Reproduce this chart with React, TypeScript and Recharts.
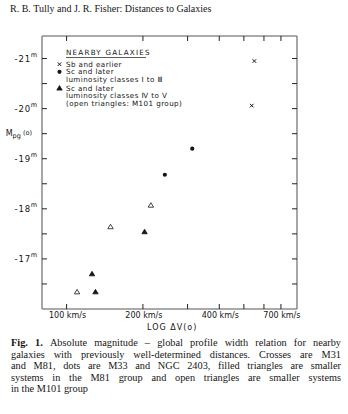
import React from 'react';
import { ScatterChart, Scatter, XAxis, YAxis } from 'recharts';

// Tully & Fisher (1977), Fig. 1 - nearby calibrators
// velocity width in km/s, absolute magnitude M_pg(o)
const sbEarlier = [
  { dv: 550, mag: -20.95 },
  { dv: 537, mag: -20.06 },
];
const scBright = [
  { dv: 313, mag: -19.2 },
  { dv: 244, mag: -18.68 },
];
const scFaintM81 = [
  { dv: 203, mag: -17.54 },
  { dv: 126, mag: -16.7 },
  { dv: 130, mag: -16.34 },
];
const scFaintM101 = [
  { dv: 215, mag: -18.07 },
  { dv: 149, mag: -17.64 },
  { dv: 110, mag: -16.34 },
];

const xTicks = [100, 200, 300, 400, 500, 600, 700];
const xLabelled = [100, 200, 400, 700];
const yTicks = [-21, -20.5, -20, -19.5, -19, -18.5, -18, -17.5, -17, -16.5];
const yLabelled = [-21, -20, -19, -18, -17];

const legendLines = [
  { marker: 'cross', text: 'Sb and earlier' },
  { marker: 'dot', text: 'Sc and later' },
  { marker: null, text: 'luminosity classes \u2160 to \u2162' },
  { marker: 'tri', text: 'Sc and later' },
  { marker: null, text: 'luminosity classes \u2163 to \u2164' },
  { marker: null, text: '(open triangles: M101 group)' },
];

const captionLines = [
  'Absolute magnitude \u2013 global profile width relation for nearby',
  'galaxies with previously well-determined distances. Crosses are M31',
  'and M81, dots are M33 and NGC 2403, filled triangles are smaller',
  'systems in the M81 group and open triangles are smaller systems',
  'in the M101 group',
];

const ink = '#151515';
const plotFont = '"DejaVu Sans", sans-serif';
const serif = '"Liberation Serif", "Times New Roman", serif';
const TICK = 5;

const Cross = ({ cx, cy }: any) => (
  <g stroke={ink} strokeWidth={1}>
    <line x1={cx - 1.8} y1={cy - 1.8} x2={cx + 1.8} y2={cy + 1.8} />
    <line x1={cx - 1.8} y1={cy + 1.8} x2={cx + 1.8} y2={cy - 1.8} />
  </g>
);
const Dot = ({ cx, cy }: any) => <circle cx={cx} cy={cy} r={2.1} fill={ink} />;
const Tri = ({ cx, cy, open }: any) => (
  <path
    d={`M${cx},${cy - 2.6} L${cx + 2.7},${cy + 1.9} L${cx - 2.7},${cy + 1.9} Z`}
    fill={open ? '#fff' : ink}
    stroke={ink}
    strokeWidth={0.8}
  />
);
const Nothing = () => <g />;

// ticks point into the plot; x, y given by recharts sit on the axis line (tickSize 0, margin 0)
const BottomTick = ({ x, y, payload }: any) => (
  <g>
    <line x1={x} y1={y} x2={x} y2={y - TICK} stroke="#222" />
    {xLabelled.includes(payload.value) && (
      <text x={x + 1} y={y + 9} textAnchor="middle" fontSize={8} fill={ink} fontFamily={plotFont}>
        {payload.value} km/s
      </text>
    )}
  </g>
);
const TopTick = ({ x, y }: any) => <line x1={x} y1={y} x2={x} y2={y + TICK} stroke="#222" />;
const RightTick = ({ x, y }: any) => <line x1={x} y1={y} x2={x - TICK} y2={y} stroke="#222" />;

const LeftTick = ({ x, y, payload }: any) => {
  const v = payload.value;
  let label = null;
  if (v === -19.5) {
    label = (
      <text x={x - 10} y={y} dy={2.5} textAnchor="end" fontSize={8} fill={ink} fontFamily={plotFont}>
        M<tspan dy={1.5} fontSize={6.5}>pg</tspan>
        <tspan dy={-3} fontSize={6.5}> (o)</tspan>
      </text>
    );
  } else if (yLabelled.includes(v)) {
    label = (
      <text x={x - 4} y={y} dy={3} textAnchor="end" fontSize={8.5} fill={ink} fontFamily={plotFont} letterSpacing={0.8}>
        {'-' + Math.abs(v)}
        <tspan dy={-4.5} fontSize={6.5}>m</tspan>
      </text>
    );
  }
  return (
    <g>
      <line x1={x} y1={y} x2={x + TICK} y2={y} stroke="#222" />
      {label}
    </g>
  );
};

export default function App() {
  return (
    <div style={{ position: 'absolute', left: 0, top: 0, width: 348, height: 414, background: '#fff' }}>
      <div
        style={{
          position: 'absolute', left: 10, top: 3, fontFamily: serif, fontSize: 10, color: ink, whiteSpace: 'nowrap',
        }}
      >
        R. B. Tully and J. R. Fisher: Distances to Galaxies
      </div>

      <div style={{ position: 'absolute', left: 0, top: 0 }}>
        <ScatterChart width={348} height={340} margin={{ top: 35, right: 50, bottom: 0, left: 0 }}>
          <XAxis
            xAxisId="b" dataKey="dv" type="number" scale="log" domain={[80, 810]} allowDataOverflow
            ticks={xTicks} interval={0} height={31} tickSize={0} tickMargin={0} tickLine={false}
            axisLine={{ stroke: '#555' }} tick={<BottomTick />}
          />
          <XAxis
            xAxisId="t" dataKey="dv" orientation="top" type="number" scale="log" domain={[80, 810]} allowDataOverflow
            ticks={xTicks} interval={0} height={1} tickSize={0} tickMargin={0} tickLine={false}
            axisLine={{ stroke: '#555' }} tick={<TopTick />}
          />
          <YAxis
            yAxisId="l" dataKey="mag" type="number" domain={[-21.45, -16]} reversed allowDataOverflow
            ticks={yTicks} interval={0} width={42} tickSize={0} tickMargin={0} tickLine={false}
            axisLine={{ stroke: '#777', strokeWidth: 1.3 }} tick={<LeftTick />}
          />
          <YAxis
            yAxisId="r" dataKey="mag" orientation="right" type="number" domain={[-21.45, -16]} reversed allowDataOverflow
            ticks={yTicks} interval={0} width={1} tickSize={0} tickMargin={0} tickLine={false}
            axisLine={{ stroke: '#777', strokeWidth: 1.3 }} tick={<RightTick />}
          />
          <Scatter xAxisId="b" yAxisId="l" data={sbEarlier} shape={<Cross />} isAnimationActive={false} />
          <Scatter xAxisId="b" yAxisId="l" data={scBright} shape={<Dot />} isAnimationActive={false} />
          <Scatter xAxisId="b" yAxisId="l" data={scFaintM81} shape={<Tri />} isAnimationActive={false} />
          <Scatter xAxisId="b" yAxisId="l" data={scFaintM101} shape={<Tri open />} isAnimationActive={false} />
          {/* binds the frame axes (top / right) so recharts draws them */}
          <Scatter xAxisId="t" yAxisId="r" data={sbEarlier} shape={<Nothing />} isAnimationActive={false} />
        </ScatterChart>
      </div>

      {/* legend and axis title, drawn over the plot */}
      <svg width={348} height={340} style={{ position: 'absolute', left: 0, top: 0, pointerEvents: 'none' }}>
        <g fontFamily={plotFont} fontSize={7.2} fill={ink}>
          <text x={66} y={55} letterSpacing={1.2}>NEARBY GALAXIES</text>
          <line x1={66} y1={57.5} x2={146} y2={57.5} stroke={ink} strokeWidth={0.7} />
          {legendLines.map((l, i) => {
            const y = 66.5 + i * 7.6 + (i >= 3 ? 1.2 : 0);
            return (
              <g key={i}>
                {l.marker === 'cross' && <Cross cx={59.5} cy={y - 2.3} />}
                {l.marker === 'dot' && <Dot cx={59.5} cy={y - 2.3} />}
                {l.marker === 'tri' && <Tri cx={59.5} cy={y - 2.3} />}
                <text x={66} y={y} letterSpacing={0.4}>{l.text}</text>
              </g>
            );
          })}
          <text x={147} y={330} fontSize={8} letterSpacing={1}>LOG  {'\u0394'}V(o)</text>
        </g>
      </svg>

      <div
        style={{
          position: 'absolute', left: 11, top: 337, width: 330, fontFamily: serif, fontSize: 10.3,
          lineHeight: '11.6px', color: ink,
        }}
      >
        {captionLines.map((line, i) => (
          <div
            key={i}
            style={{
              textAlign: 'justify',
              textAlignLast: i < captionLines.length - 1 ? 'justify' : 'left',
              whiteSpace: 'nowrap',
            }}
          >
            {i === 0 && <b>Fig. 1. </b>}
            {line}
          </div>
        ))}
      </div>
    </div>
  );
}
